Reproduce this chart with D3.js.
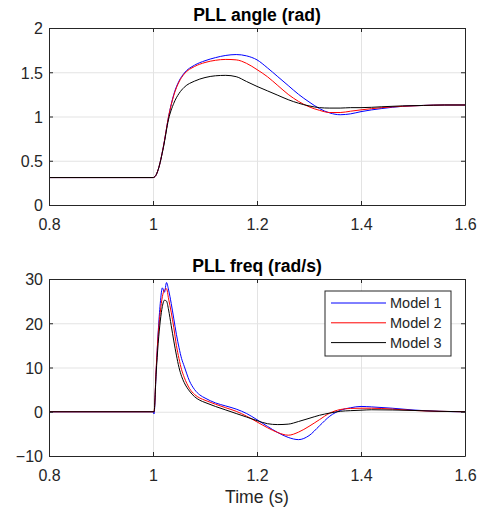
<!DOCTYPE html>
<html lang="en">
<head>
  <meta charset="UTF-8">
  <title>PLL</title>
</head>
<body style="margin: 0; background-color: #ffffff">
  <style>
    svg{font-family: "Liberation Sans", Arial, Helvetica, sans-serif;}
    .tick text{fill: #262626;}
  </style>
  <div id="chart"></div>
  <script src="https://d3js.org/d3.v7.min.js"></script>
  <script>
  // DATA
  const names = ["Model 1", "Model 2", "Model 3"];
  const colors = ["#0000ff", "#ff0000", "#000000"];
  const xTicks = [0.8, 1, 1.2, 1.4, 1.6];
  const angleTicks = [0, 0.5, 1, 1.5, 2];
  const freqTicks = [-10, 0, 10, 20, 30];

  const tAngle = [0.8, 1.0, 1.005, 1.01, 1.02, 1.03, 1.04, 1.05, 1.06, 1.08, 1.10, 1.12, 1.14, 1.16, 1.18, 1.20,
    1.22, 1.24, 1.26, 1.28, 1.30, 1.32, 1.34, 1.36, 1.38, 1.40, 1.44, 1.48, 1.52, 1.56, 1.6];
  const angle1 = [0.31, 0.31, 0.33, 0.40, 0.66, 1.00, 1.25, 1.40, 1.49, 1.58, 1.63, 1.665, 1.69, 1.70, 1.685, 1.64,
    1.55, 1.45, 1.35, 1.25, 1.165, 1.09, 1.04, 1.02, 1.03, 1.055, 1.09, 1.115, 1.125, 1.13, 1.13];
  const angle2 = [0.31, 0.31, 0.33, 0.40, 0.66, 1.00, 1.24, 1.39, 1.48, 1.565, 1.61, 1.635, 1.645, 1.64, 1.60, 1.53,
    1.45, 1.35, 1.25, 1.17, 1.11, 1.07, 1.045, 1.045, 1.06, 1.075, 1.10, 1.115, 1.125, 1.13, 1.13];
  const angle3 = [0.31, 0.31, 0.33, 0.40, 0.65, 0.97, 1.15, 1.26, 1.33, 1.40, 1.44, 1.46, 1.465, 1.45, 1.395, 1.34,
    1.29, 1.24, 1.19, 1.15, 1.12, 1.10, 1.095, 1.095, 1.10, 1.10, 1.11, 1.12, 1.125, 1.13, 1.13];

  const tFreq = [0.8, 1.0, 1.002, 1.006, 1.01, 1.014, 1.018, 1.022, 1.026, 1.03, 1.035, 1.04, 1.045, 1.05, 1.055,
    1.06, 1.07, 1.08, 1.09, 1.10, 1.12, 1.14, 1.16, 1.18, 1.20, 1.22, 1.24, 1.26, 1.28, 1.30, 1.32, 1.34, 1.36,
    1.38, 1.40, 1.42, 1.46, 1.50, 1.55, 1.6];
  const freq1 = [0, 0, -0.5, 9, 18, 24.5, 28, 27, 29.2, 27.5, 24.5, 21, 17.5, 14.5, 12,
    10.3, 7, 5, 3.8, 3.1, 2.0, 1.3, 0.6, -0.4, -1.8, -3.3, -4.7, -5.8, -6.3, -5.4, -3.2, -1.0, 0.3,
    0.9, 1.2, 1.1, 0.8, 0.4, 0.1, 0];
  const freq2 = [0, 0, 0, 9.5, 17.5, 22.5, 26, 27.5, 27.8, 25.5, 22.5, 19, 15, 12, 9.5,
    7.8, 5.3, 3.9, 3.1, 2.6, 1.7, 0.9, 0.1, -1.0, -2.3, -3.6, -4.7, -5.3, -4.6, -3.3, -1.8, -0.3, 0.5,
    0.75, 0.8, 0.8, 0.6, 0.3, 0.1, 0];
  const freq3 = [0, 0, 0, 8.5, 15.5, 20.5, 23.8, 25.2, 25.0, 23, 19.5, 16, 12.8, 10, 8,
    6.6, 4.7, 3.4, 2.6, 2.1, 1.2, 0.4, -0.4, -1.2, -2.0, -2.7, -2.9, -2.8, -2.2, -1.5, -0.8, -0.3, 0.1,
    0.25, 0.35, 0.45, 0.4, 0.3, 0.1, 0];

  // CONSTANTS
  const width = 484;
  const height = 512;
  const left = 49, right = 465;
  const cdark = "#262626";
  const cgrid = "#e3e3e3";

  const svg = d3.select("#chart").append("svg")
    .attr("width", width)
    .attr("height", height);

  const x = d3.scaleLinear().domain([0.8, 1.6]).range([left, right]);

  function drawPanel(opts) {
    const y = d3.scaleLinear().domain(opts.domain).range([opts.bottom, opts.top]);
    const h = opts.bottom - opts.top;
    const g = svg.append("g");
    const clipId = "clip" + opts.id;

    g.append("clipPath").attr("id", clipId)
      .append("rect")
      .attr("x", left).attr("y", opts.top)
      .attr("width", right - left).attr("height", h);

    // GRID
    g.append("g")
      .attr("transform", `translate(0,${opts.bottom})`)
      .call(d3.axisBottom(x).tickValues(xTicks).tickSize(-h).tickFormat(""))
      .call(a => a.select(".domain").remove())
      .call(a => a.selectAll("line").attr("stroke", cgrid));
    g.append("g")
      .attr("transform", `translate(${left},0)`)
      .call(d3.axisLeft(y).tickValues(opts.ticks).tickSize(-(right - left)).tickFormat(""))
      .call(a => a.select(".domain").remove())
      .call(a => a.selectAll("line").attr("stroke", cgrid));

    // LINES
    const line = d3.line()
      .x(d => x(d[0]))
      .y(d => y(d[1]))
      .curve(d3.curveMonotoneX);
    opts.series.forEach((s, i) => {
      g.append("path")
        .datum(opts.t.map((t, j) => [t, s[j]]))
        .attr("clip-path", `url(#${clipId})`)
        .attr("fill", "none")
        .attr("stroke", colors[i])
        .attr("stroke-width", 1)
        .attr("d", line);
    });

    // AXES (ticks inward, MATLAB style)
    const axB = g.append("g")
      .attr("transform", `translate(0,${opts.bottom})`)
      .call(d3.axisBottom(x).tickValues(xTicks).tickSizeInner(-4).tickSizeOuter(0).tickPadding(13.5)
        .tickFormat(d3.format("~g")));
    const axT = g.append("g")
      .attr("transform", `translate(0,${opts.top})`)
      .call(d3.axisTop(x).tickValues(xTicks).tickSizeInner(-4).tickSizeOuter(0).tickFormat(""));
    const axL = g.append("g")
      .attr("transform", `translate(${left},0)`)
      .call(d3.axisLeft(y).tickValues(opts.ticks).tickSizeInner(-4).tickSizeOuter(0).tickPadding(6)
        .tickFormat(d3.format("~g")));
    const axR = g.append("g")
      .attr("transform", `translate(${right},0)`)
      .call(d3.axisRight(y).tickValues(opts.ticks).tickSizeInner(-4).tickSizeOuter(0).tickFormat(""));
    [axB, axT, axL, axR].forEach(a => {
      a.selectAll("line").attr("stroke", cdark);
      a.selectAll("path").attr("stroke", cdark);
      a.selectAll("text").style("font-size", "16px").attr("fill", cdark);
    });
    axL.selectAll("text").attr("dy", "0.36em");

    // TITLE
    g.append("text")
      .attr("x", (left + right) / 2)
      .attr("y", opts.top - 7.5)
      .attr("text-anchor", "middle")
      .style("font-size", "17.6px")
      .style("font-weight", "bold")
      .attr("fill", "#000")
      .text(opts.title);

    return {g: g, y: y};
  }

  drawPanel({id: 1, top: 28, bottom: 205, domain: [0, 2], ticks: angleTicks,
    t: tAngle, series: [angle1, angle2, angle3], title: "PLL angle (rad)"});
  const p2 = drawPanel({id: 2, top: 279, bottom: 456, domain: [-10, 30], ticks: freqTicks,
    t: tFreq, series: [freq1, freq2, freq3], title: "PLL freq (rad/s)"});

  // X LABEL
  svg.append("text")
    .attr("x", (left + right) / 2)
    .attr("y", 502.5)
    .attr("text-anchor", "middle")
    .style("font-size", "17.6px")
    .attr("fill", cdark)
    .text("Time (s)");

  // LEGEND
  const legend = svg.append("g").attr("transform", "translate(325,291)");
  legend.append("rect")
    .attr("width", 126).attr("height", 65)
    .attr("fill", "#fff")
    .attr("stroke", cdark)
    .attr("stroke-width", 1);
  names.forEach((n, i) => {
    const ly = 12 + i * 19.8;
    legend.append("line")
      .attr("x1", 6).attr("x2", 61)
      .attr("y1", ly).attr("y2", ly)
      .attr("stroke", colors[i])
      .attr("stroke-width", 1);
    legend.append("text")
      .attr("x", 65).attr("y", ly + 5.2)
      .style("font-size", "14.5px")
      .attr("fill", cdark)
      .text(n);
  });
  </script>
</body>
</html>
